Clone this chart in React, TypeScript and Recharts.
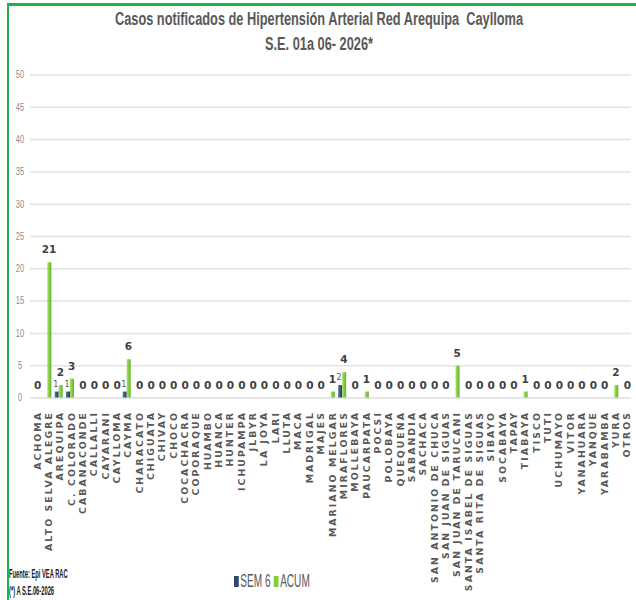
import { ComposedChart, Bar, Line, XAxis, YAxis, CartesianGrid, LabelList } from "recharts"

const districts = [
  "ACHOMA", "ALTO SELVA ALEGRE", "AREQUIPA", "C. COLORADO", "CABANACONDE", "CALLALLI",
  "CAYARANI", "CAYLLOMA", "CAYMA", "CHARACATO", "CHIGUATA", "CHIVAY", "CHOCO",
  "COCACHACRA", "COPORAQUE", "HUAMBO", "HUANCA", "HUNTER", "ICHUPAMPA", "JLBYR",
  "LA JOYA", "LARI", "LLUTA", "MACA", "MADRIGAL", "MAJES", "MARIANO MELGAR",
  "MIRAFLORES", "MOLLEBAYA", "PAUCARPATA", "POCSI", "POLOBAYA", "QUEQUEÑA",
  "SABANDIA", "SACHACA", "SAN ANTONIO DE CHUCA", "SAN JUAN DE SIGUAS",
  "SAN JUAN DE TARUCANI", "SANTA ISABEL DE SIGUAS", "SANTA RITA DE SIGUAS", "SIBAYO",
  "SOCABAYA", "TAPAY", "TIABAYA", "TISCO", "TUTI", "UCHUMAYO", "VITOR", "YANAHUARA",
  "YANQUE", "YARABAMBA", "YURA", "OTROS",
]

const sem6 = [
  0, 0, 1, 1, 0, 0, 0, 0, 1, 0, 0, 0, 0, 0, 0, 0, 0, 0, 0, 0, 0, 0, 0, 0, 0, 0, 0,
  2, 0, 0, 0, 0, 0, 0, 0, 0, 0, 0, 0, 0, 0, 0, 0, 0, 0, 0, 0, 0, 0, 0, 0, 0, 0,
]

const acum = [
  0, 21, 2, 3, 0, 0, 0, 0, 6, 0, 0, 0, 0, 0, 0, 0, 0, 0, 0, 0, 0, 0, 0, 0, 0, 0, 1,
  4, 0, 1, 0, 0, 0, 0, 0, 0, 0, 5, 0, 0, 0, 0, 0, 1, 0, 0, 0, 0, 0, 0, 0, 2, 0,
]

const yTicks = [0, 5, 10, 15, 20, 25, 30, 35, 40, 45, 50]

const data = districts.map((name, i) => ({ name, sem6: sem6[i], acum: acum[i] }))

const sans = '"Liberation Sans", Arial, sans-serif'

function DistrictTick(props: any) {
  const { x, y, payload } = props
  return (
    <text
      x={x + 1.5}
      y={y + 5}
      transform={`rotate(-90, ${x + 1.5}, ${y + 5})`}
      textAnchor="end"
      dominantBaseline="central"
      fontFamily='"DejaVu Sans", Verdana, sans-serif'
      fontWeight="bold"
      fontSize={9.3}
      letterSpacing={2.1}
      fill="#595959"
    >
      {payload.value}
    </text>
  )
}

function ValueTick(props: any) {
  const { y, payload } = props
  return (
    <text
      x={20}
      y={y}
      textAnchor="middle"
      dominantBaseline="central"
      fontFamily={sans}
      fontSize={10}
      fill="#8c8c8c"
      transform={`translate(20 0) scale(0.75 1) translate(-20 0)`}
    >
      {payload.value}
    </text>
  )
}

function SemLabel(props: any) {
  const { x, y, width, value } = props
  if (!value) return null
  return (
    <text x={x + width / 2 - 1} y={y - 5} textAnchor="middle" fontFamily='"DejaVu Sans", sans-serif' fontSize={8} fill="#595959">
      {value}
    </text>
  )
}

function AcumLabel(props: any) {
  const { x, y, value } = props
  return (
    <text
      x={x + 2}
      y={y - 9}
      textAnchor="middle"
      fontFamily='"DejaVu Sans", sans-serif'
      fontWeight="bold"
      fontSize={10.5}
      fill="#404040"
    >
      {value}
    </text>
  )
}

export default function App() {
  return (
    <div style={{ position: "absolute", left: 0, top: 0, width: 636, height: 600, background: "#fff", overflow: "hidden" }}>
      <div
        style={{
          position: "absolute",
          left: 7,
          top: 3,
          width: 660,
          height: 640,
          borderTop: "3px solid #22b04b",
          borderLeft: "2px solid #22b04b",
        }}
      />
      <div
        style={{
          position: "absolute",
          left: 0,
          top: 7,
          width: 638,
          textAlign: "center",
          fontFamily: sans,
          fontWeight: "bold",
          fontSize: 18,
          lineHeight: "25px",
          color: "#595959",
          transform: "scaleX(0.71)",
          transformOrigin: "319px 0",
          whiteSpace: "nowrap",
        }}
      >
        <div>Casos notificados de Hipertensión Arterial Red Arequipa&nbsp; Caylloma</div>
        <div>S.E. 01a 06- 2026*</div>
      </div>
      <div style={{ position: "absolute", left: 0, top: 0 }}>
        <ComposedChart
          width={636}
          height={600}
          data={data}
          margin={{ top: 75, right: 5, left: 6, bottom: 0 }}
          barSize={4}
          barGap={0}
        >
          <CartesianGrid vertical={false} stroke="#e3e3e3" strokeWidth={1.5} />
          <XAxis
            dataKey="name"
            interval={0}
            height={202}
            tick={<DistrictTick />}
            tickLine={false}
            axisLine={{ stroke: "#e3e3e3" }}
          />
          <YAxis
            width={24}
            domain={[0, 50]}
            ticks={yTicks}
            tick={<ValueTick />}
            axisLine={false}
            tickLine={false}
          />
          <defs>
            <linearGradient id="semFill" x1="0" y1="0" x2="1" y2="0">
              <stop offset="0%" stopColor="#5a7aa3" />
              <stop offset="100%" stopColor="#1d365a" />
            </linearGradient>
            <linearGradient id="acumFill" x1="0" y1="0" x2="1" y2="0">
              <stop offset="0%" stopColor="#a9e35e" />
              <stop offset="100%" stopColor="#5fb22a" />
            </linearGradient>
          </defs>
          <Bar dataKey="sem6" fill="url(#semFill)" isAnimationActive={false}>
            <LabelList dataKey="sem6" content={<SemLabel />} />
          </Bar>
          <Bar dataKey="acum" fill="url(#acumFill)" isAnimationActive={false} />
          <Line
            dataKey="acum"
            stroke="none"
            dot={false}
            activeDot={false}
            legendType="none"
            isAnimationActive={false}
          >
            <LabelList dataKey="acum" content={<AcumLabel />} />
          </Line>
        </ComposedChart>
      </div>
      <div
        style={{
          position: "absolute",
          left: 234,
          top: 570,
          display: "flex",
          alignItems: "center",
          fontFamily: sans,
          fontSize: 19,
          color: "#595959",
          transform: "scaleX(0.53)",
          transformOrigin: "0 0",
          whiteSpace: "nowrap",
        }}
      >
        <span style={{ display: "inline-block", width: 9, height: 11, background: "#2c4a70", marginRight: 3 }} />
        <span style={{ marginRight: 6 }}>SEM 6</span>
        <span style={{ display: "inline-block", width: 9, height: 11, background: "#7fcf3e", marginRight: 3 }} />
        <span>ACUM</span>
      </div>
      <div
        style={{
          position: "absolute",
          left: 9,
          top: 566,
          fontFamily: sans,
          fontWeight: "bold",
          fontSize: 12,
          lineHeight: "17px",
          color: "#1a1a1a",
          transform: "scaleX(0.48)",
          transformOrigin: "0 0",
          whiteSpace: "nowrap",
        }}
      >
        <div>Fuente: Epi VEA RAC</div>
        <div>(*) A S.E.06-2026</div>
      </div>
    </div>
  )
}
